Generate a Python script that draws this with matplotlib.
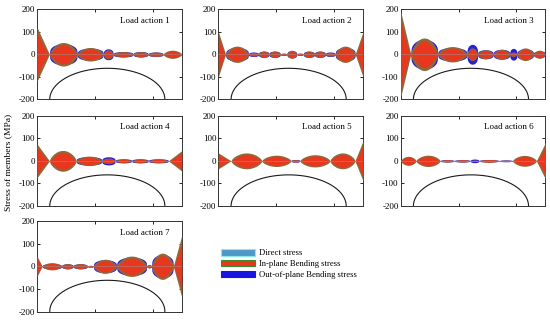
import numpy as np
import matplotlib
matplotlib.use("Agg")
import matplotlib.pyplot as plt
from matplotlib.patches import Patch

plt.rcParams["font.family"] = ["Liberation Serif", "DejaVu Serif"]
plt.rcParams["axes.unicode_minus"] = False

SPAN = 50.0
Y_TICKS = [-200, -100, 0, 100, 200]
X_TICKS = [20, 40]

# arch outline (centre, half span, rise from -200)
ARCH_C, ARCH_A, ARCH_B = 24.3, 19.9, 138.0

titles = ["Load action %d" % i for i in range(1, 8)]

# segment boundaries along the member line, one list per load action
nodes = [
    [0, 4.3, 13.9, 22.9, 26.3, 33.2, 38.4, 43.6, 50],
    [0, 2.5, 10.4, 13.9, 17.5, 21.4, 23.7, 27.1, 29.4, 33.2, 37.0, 40.4, 47.3, 50],
    [0, 3.5, 12.8, 22.9, 26.6, 32.0, 37.7, 40.2, 45.9, 50],
    [0, 4.3, 13.5, 22.4, 27.0, 32.7, 38.5, 45.4, 50],
    [0, 4.4, 15.0, 25.1, 28.2, 38.6, 47.2, 50],
    [0, 5.3, 13.6, 18.5, 24.1, 27.0, 34.0, 38.7, 46.9, 50],
    [0, 1.8, 8.5, 12.5, 17.4, 19.5, 27.5, 37.9, 39.6, 47.1, 50],
]
# '<' = peak at left end, '>' = peak at right end, 'L' = lobe between nodes
kinds = [
    "<LLLLLLL",
    "<LLLLLLLLLLL>",
    "<LLLLLLLL",
    "<LLLLLL>",
    "<LLLLL>",
    "LLLLLLLL>",
    "<LLLLLLLL>",
]
# in-plane bending stress peaks (MPa)
inplane = [
    [120, 52, 30, 20, 12, 12, 10, 18],
    [100, 36, 8, 14, 14, 4, 18, 4, 14, 14, 8, 36, 100],
    [190, 72, 34, 28, 20, 22, 10, 28, 18],
    [75, 46, 21, 12, 8, 8, 8, 45],
    [35, 35, 25, 5, 27, 35, 88],
    [20, 25, 5, 5, 3, 6, 3, 24, 80],
    [45, 16, 12, 12, 4, 31, 45, 8, 58, 135],
]
# out-of-plane bending stress peaks (MPa)
outplane = [
    [0, 47, 27, 24, 12, 12, 10, 0],
    [0, 30, 10, 14, 14, 5, 16, 5, 14, 14, 10, 30, 0],
    [0, 66, 30, 44, 20, 22, 26, 24, 15],
    [0, 0, 19, 18, 9, 9, 9, 0],
    [0, 0, 0, 6, 0, 0, 0],
    [0, 0, 5, 5, 8, 5, 4, 0, 0],
    [0, 12, 11, 11, 4, 29, 41, 6, 52, 0],
]

C_DIRECT = "#4f97c6"
C_INPLANE = "#e8361f"
C_RIM = "#8e6a3a"
C_OUT = "#2a1fd8"


def shape(kind, t, p):
    if kind == "<":
        return (1 - t) ** p
    if kind == ">":
        return t ** p
    return np.sin(np.pi * t) ** p


fig = plt.figure(figsize=(5.5, 3.22), dpi=100)

col_left = [0.0673, 0.397, 0.7285]
row_bottom = [0.691, 0.360, 0.0326]
W, H = 0.263, 0.281
slots = [(r, c) for r in range(3) for c in range(3)][:7]

t = np.linspace(0, 1, 80)
for k, (r, c) in enumerate(slots):
    ax = fig.add_axes([col_left[c], row_bottom[r], W, H])
    xs = nodes[k]
    for i, kind in enumerate(kinds[k]):
        x = xs[i] + (xs[i + 1] - xs[i]) * t
        b = outplane[k][i]
        a = inplane[k][i]
        if b > 0:
            yb = b * shape(kind, t, 0.3)
            ax.fill_between(x, -yb, yb, color=C_OUT, lw=0, zorder=2)
        ya = a * shape(kind, t, 0.6 if kind == "L" else 1.0)
        ax.fill_between(x, -ya, ya, color=C_RIM, lw=0, zorder=3)
        yr = 0.82 * a * shape(kind, t, 1.1 if kind == "L" else 1.4)
        ax.fill_between(x, -yr, yr, color=C_INPLANE, lw=0, zorder=4)
    ax.axhline(0, color="#b07a70", lw=0.5, zorder=5)

    th = np.linspace(0, np.pi, 200)
    ax.plot(ARCH_C + ARCH_A * np.cos(th), -200 + ARCH_B * np.sin(th),
            color="#1a1a1a", lw=0.8, zorder=6)

    ax.set_xlim(0, SPAN)
    ax.set_ylim(-200, 200)
    ax.set_yticks(Y_TICKS)
    ax.set_xticks(X_TICKS)
    ax.set_xticklabels([])
    ax.tick_params(direction="in", length=2, width=0.6, labelsize=6.5,
                   top=True, right=True, pad=1.5)
    for s in ax.spines.values():
        s.set_linewidth(0.7)
        s.set_color("#333333")
    ax.text(0.92, 0.87, titles[k], transform=ax.transAxes, ha="right",
            va="center", fontsize=6.5)

fig.text(0.015, 1 - 162 / 322, "Stress of members (MPa)", rotation=90,
         ha="center", va="center", fontsize=6.8)

handles = [
    Patch(facecolor=C_DIRECT, edgecolor="#8fe6f2", lw=0.8, label="Direct stress"),
    Patch(facecolor=C_INPLANE, edgecolor="#3c8c2c", lw=0.8, label="In-plane Bending stress"),
    Patch(facecolor="#1a14e0", edgecolor="#1a14e0", lw=0.8, label="Out-of-plane Bending stress"),
]
fig.legend(handles=handles, loc="upper left",
           bbox_to_anchor=(220.7 / 550, 1 - 249 / 322), frameon=False,
           fontsize=6.2, handlelength=4.0, handleheight=0.8,
           handletextpad=0.45, labelspacing=0.3, borderpad=0, borderaxespad=0)

fig.savefig("out.png", dpi=100)
